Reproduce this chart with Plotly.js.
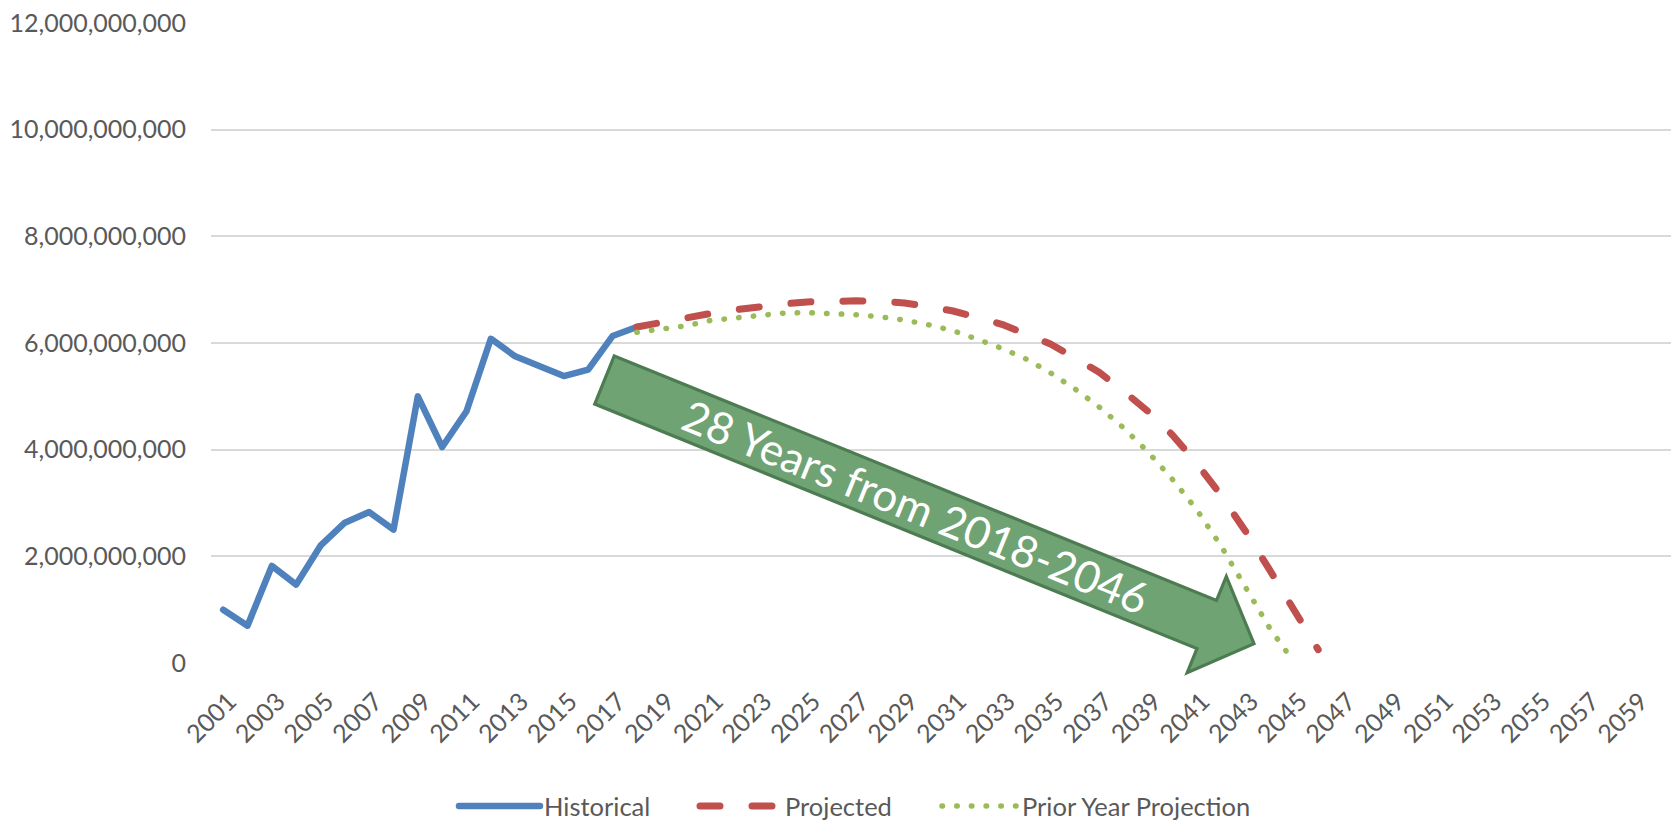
<!DOCTYPE html>
<html><head><meta charset="utf-8">
<script src="https://cdn.plot.ly/plotly-3.0.1.min.js"></script>
<style>
html,body{margin:0;padding:0;background:#fff;}
#chart{width:1676px;height:822px;}
.scatterlayer .js-line{stroke-linecap:round;stroke-linejoin:round;}
.shapelayer path{stroke-linecap:round;}
</style></head><body>
<div id="chart"></div>
<script>
// Category axis (tick labels)
const years = ["2001","2002","2003","2004","2005","2006","2007","2008","2009","2010",
  "2011","2012","2013","2014","2015","2016","2017","2018","2019","2020",
  "2021","2022","2023","2024","2025","2026","2027","2028","2029","2030",
  "2031","2032","2033","2034","2035","2036","2037","2038","2039","2040",
  "2041","2042","2043","2044","2045","2046","2047","2048","2049","2050",
  "2051","2052","2053","2054","2055","2056","2057","2058","2059","2060"];

// Historical 2001-2018
const histYears = ["2001","2002","2003","2004","2005","2006","2007","2008","2009",
  "2010","2011","2012","2013","2014","2015","2016","2017","2018"];
const histValues = [1.0e9,0.7e9,1.82e9,1.47e9,2.2e9,2.63e9,2.83e9,2.5e9,5.0e9,
  4.05e9,4.72e9,6.08e9,5.75e9,5.55e9,5.38e9,5.5e9,6.13e9,6.3e9];

// Projected 2018-2046
const projYears = ["2018","2019","2020","2021","2022","2023","2024","2025","2026","2027",
  "2028","2029","2030","2031","2032","2033","2034","2035","2036","2037",
  "2038","2039","2040","2041","2042","2043","2044","2045","2046"];
const projValues = [6.3e9,6.39e9,6.47e9,6.55e9,6.62e9,6.69e9,6.73e9,6.77e9,6.79e9,6.79e9,
  6.78e9,6.75e9,6.68e9,6.6e9,6.48e9,6.35e9,6.17e9,5.98e9,5.72e9,5.45e9,
  5.1e9,4.72e9,4.28e9,3.75e9,3.15e9,2.48e9,1.75e9,1.0e9,0.25e9];

// Prior Year Projection 2018-2045
const priorYears = ["2018","2019","2020","2021","2022","2023","2024","2025","2026","2027",
  "2028","2029","2030","2031","2032","2033","2034","2035","2036","2037",
  "2038","2039","2040","2041","2042","2043","2044","2045"];
const priorValues = [6.2e9,6.26e9,6.32e9,6.42e9,6.47e9,6.52e9,6.56e9,6.57e9,6.56e9,6.53e9,
  6.49e9,6.43e9,6.34e9,6.23e9,6.07e9,5.9e9,5.7e9,5.44e9,5.14e9,4.8e9,
  4.41e9,3.96e9,3.45e9,2.88e9,2.2e9,1.44e9,0.66e9,0.02e9];

const seriesNames = ["Historical","Projected","Prior Year Projection"];
const arrowText = "28 Years from 2018-2046";

const BLUE = "#4F81BD", RED = "#C0504D", GREEN = "#9BBB59";
const FONT = "Lato, 'Open Sans', sans-serif";
const GREY = "#595959";

const W = 1676, H = 822, ML = 211, MR = 5, MT = 23, MB = 159;
const PW = W - ML - MR, PH = H - MT - MB;
const px = x => (x - ML) / PW;
const py = y => (H - MB - y) / PH;

const lineStyles = [
  {color: BLUE, width: 6.5, dash: "solid"},
  {color: RED, width: 7, dash: "20px,32px"},
  {color: GREEN, width: 5.5, dash: "0.5px,14.2px"}
];

const traces = [
  {x: histYears, y: histValues, name: seriesNames[0], type: "scatter", mode: "lines",
   line: lineStyles[0], hoverinfo: "x+y"},
  {x: projYears, y: projValues, name: seriesNames[1], type: "scatter", mode: "lines",
   line: lineStyles[1], hoverinfo: "x+y"},
  {x: priorYears, y: priorValues, name: seriesNames[2], type: "scatter", mode: "lines",
   line: lineStyles[2], hoverinfo: "x+y"}
];

// Block arrow geometry (pixel space -> paper)
const ang = 22.1 * Math.PI / 180;
const ux = Math.cos(ang), uy = Math.sin(ang);
const nx = -uy, ny = ux;
const tail = [604.5, 380], shaftLen = 650, halfShaft = 26, halfHead = 52, headLen = 51;
const hb = [tail[0] + shaftLen * ux, tail[1] + shaftLen * uy];
const pts = [
  [tail[0] - halfShaft * nx, tail[1] - halfShaft * ny],
  [hb[0] - halfShaft * nx, hb[1] - halfShaft * ny],
  [hb[0] - halfHead * nx, hb[1] - halfHead * ny],
  [hb[0] + headLen * ux, hb[1] + headLen * uy],
  [hb[0] + halfHead * nx, hb[1] + halfHead * ny],
  [hb[0] + halfShaft * nx, hb[1] + halfShaft * ny],
  [tail[0] + halfShaft * nx, tail[1] + halfShaft * ny]
];
const arrowPath = pts.map((p, i) => (i ? "L" : "M") + px(p[0]).toFixed(5) + "," + py(p[1]).toFixed(5)).join(" ") + " Z";
const textC = [tail[0] + (shaftLen / 2 + 11) * ux, tail[1] + (shaftLen / 2 + 11) * uy];

// Custom legend
const legY = 806;
const legItems = [
  {x0: 459, x1: 540, tx: 542},
  {x0: 700, x1: 774, tx: 783},
  {x0: 942, x1: 1018, tx: 1020}
];

const shapes = [{
  type: "path", xref: "paper", yref: "paper", path: arrowPath,
  fillcolor: "#6FA373", line: {color: "#4E7C52", width: 3.2}, layer: "above"
}];
const annotations = [{
  xref: "paper", yref: "paper", x: px(textC[0]), y: py(textC[1]),
  text: arrowText, showarrow: false, textangle: 22.1,
  xanchor: "center", yanchor: "middle",
  font: {family: FONT, size: 44, color: "#ffffff"}
}];
legItems.forEach((it, i) => {
  shapes.push({type: "line", xref: "paper", yref: "paper",
    x0: px(it.x0), x1: px(it.x1), y0: py(legY), y1: py(legY),
    line: {color: lineStyles[i].color, width: lineStyles[i].width, dash: lineStyles[i].dash}});
  annotations.push({xref: "paper", yref: "paper", x: px(it.tx), y: py(legY),
    xanchor: "left", yanchor: "middle", showarrow: false, text: seriesNames[i],
    font: {family: FONT, size: 25.5, color: GREY}});
});

const layout = {
  width: W, height: H,
  margin: {l: ML, r: MR, t: MT, b: MB, pad: 0},
  paper_bgcolor: "#ffffff", plot_bgcolor: "#ffffff",
  showlegend: false,
  font: {family: FONT, color: GREY, size: 25},
  xaxis: {
    type: "category", categoryorder: "array", categoryarray: years,
    range: [-0.5, years.length - 0.5], dtick: 2, tick0: 0,
    tickangle: -45, showgrid: false, zeroline: false, showline: false,
    ticks: "", ticklabelstandoff: 18, ticklabelshift: 6,
    tickfont: {family: FONT, size: 25, color: GREY}
  },
  yaxis: {
    range: [0, 12e9], dtick: 2e9, tickformat: ",.0f",
    showgrid: true, gridcolor: "#D9D9D9", gridwidth: 2,
    zeroline: false, showline: false, ticks: "", ticklabelstandoff: 24,
    tickfont: {family: FONT, size: 25, color: GREY}
  },
  shapes: shapes,
  annotations: annotations
};

Plotly.newPlot("chart", traces, layout, {displayModeBar: false, staticPlot: true});
</script>
</body></html>
